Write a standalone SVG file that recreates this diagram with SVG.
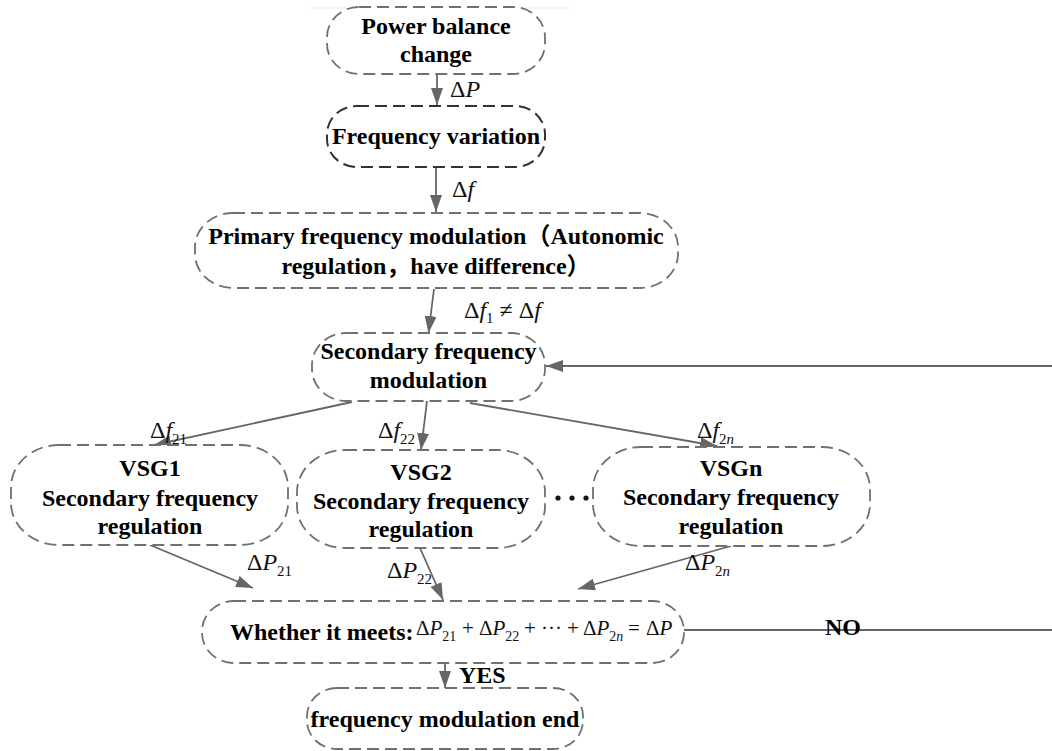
<svg xmlns="http://www.w3.org/2000/svg" width="1052" height="751" viewBox="0 0 1052 751">
<defs>
<marker id="ah" markerUnits="userSpaceOnUse" markerWidth="17" markerHeight="12" refX="17" refY="6" orient="auto">
<path d="M0,0 L17,6 L0,12 z" fill="#666"/>
</marker>
<style>
.n{fill:#fff;stroke:#707070;stroke-width:1.8;stroke-dasharray:12 6}
.nd{fill:#fff;stroke:#333;stroke-width:2;stroke-dasharray:12 6}
.t{font-weight:bold;font-size:24px;fill:#000;text-anchor:middle}
.tl{font-weight:bold;font-size:24px;fill:#000}
.m{font-size:24px;fill:#111}
.mf{font-size:21px;fill:#111}
.i{font-style:italic}
.s{font-size:15px}
.sf{font-size:14px}
.c{stroke:#666;stroke-width:1.8;fill:none}
</style>
</defs>
<rect width="1052" height="751" fill="#fff"/>
<line x1="310" y1="8" x2="570" y2="8" stroke="#ececec" stroke-width="1"/>
<g font-family="Liberation Serif, Times New Roman, DejaVu Serif, serif">
<g id="connectors">
<line class="c" x1="437" y1="74" x2="437" y2="105" marker-end="url(#ah)"/>
<line class="c" x1="436" y1="167" x2="436" y2="212" marker-end="url(#ah)"/>
<line class="c" x1="434" y1="289" x2="428.5" y2="333" marker-end="url(#ah)"/>
<line class="c" x1="1052" y1="366" x2="546" y2="366" marker-end="url(#ah)"/>
<line class="c" x1="352" y1="402" x2="154" y2="445" marker-end="url(#ah)"/>
<line class="c" x1="427" y1="401" x2="421" y2="450" marker-end="url(#ah)"/>
<line class="c" x1="470" y1="403" x2="717" y2="446" marker-end="url(#ah)"/>
<line class="c" x1="150" y1="545" x2="253" y2="588" marker-end="url(#ah)"/>
<line class="c" x1="420" y1="548" x2="443" y2="600" marker-end="url(#ah)"/>
<line class="c" x1="731" y1="546" x2="578" y2="589" marker-end="url(#ah)"/>
<line class="c" x1="684" y1="630" x2="1052" y2="630"/>
<line class="c" x1="445" y1="663" x2="445" y2="688" marker-end="url(#ah)"/>
<text class="m" x="450" y="97">Δ<tspan class="i">P</tspan></text>
<text class="m" x="452" y="197">Δ<tspan class="i">f</tspan></text>
<text class="m" x="464" y="318">Δ<tspan class="i">f</tspan><tspan class="s" dy="5">1</tspan><tspan dy="-5"> ≠ Δ</tspan><tspan class="i">f</tspan></text>
<text class="m" x="150" y="438">Δ<tspan class="i">f</tspan><tspan class="s" dy="6">21</tspan></text>
<text class="m" x="378" y="438">Δ<tspan class="i">f</tspan><tspan class="s" dy="6">22</tspan></text>
<text class="m" x="697" y="438">Δ<tspan class="i">f</tspan><tspan class="s" dy="6">2<tspan class="i">n</tspan></tspan></text>
<text class="m" x="247" y="570">Δ<tspan class="i">P</tspan><tspan class="s" dy="6">21</tspan></text>
<text class="m" x="387" y="578">Δ<tspan class="i">P</tspan><tspan class="s" dy="6">22</tspan></text>
<text class="m" x="685" y="570">Δ<tspan class="i">P</tspan><tspan class="s" dy="6">2<tspan class="i">n</tspan></tspan></text>
<text class="tl" x="825" y="635">NO</text>
<text class="tl" x="459" y="683">YES</text>
</g>

<g id="n1">
<rect class="n" x="327" y="7" width="218" height="67" rx="32" ry="30"/>
<text class="t" x="436" y="34">Power balance</text>
<text class="t" x="436" y="62">change</text>
</g>
<g id="n2">
<rect class="nd" x="327" y="106" width="218" height="61" rx="30" ry="28"/>
<text class="t" x="436" y="144">Frequency variation</text>
</g>
<g id="n3">
<rect class="n" x="195" y="213" width="483" height="75" rx="38" ry="34"/>
<text class="t" x="436" y="244">Primary frequency modulation<tspan font-family="Noto Sans CJK SC, sans-serif">（</tspan>Autonomic</text>
<text class="t" x="436" y="274">regulation<tspan font-family="Noto Sans CJK SC, sans-serif">，</tspan>have difference<tspan font-family="Noto Sans CJK SC, sans-serif">）</tspan></text>
</g>
<g id="n4">
<rect class="n" x="312" y="333" width="233" height="68" rx="34" ry="32"/>
<text class="t" x="428.5" y="359">Secondary frequency</text>
<text class="t" x="428.5" y="388">modulation</text>
</g>
<g id="vsg1">
<rect class="n" x="11" y="445" width="277" height="100" rx="48" ry="42"/>
<text class="t" x="150" y="476">VSG1</text>
<text class="t" x="150" y="506">Secondary frequency</text>
<text class="t" x="150" y="534">regulation</text>
</g>
<g id="vsg2">
<rect class="n" x="297" y="450" width="248" height="98" rx="48" ry="42"/>
<text class="t" x="421" y="480">VSG2</text>
<text class="t" x="421" y="509">Secondary frequency</text>
<text class="t" x="421" y="537">regulation</text>
</g>
<g id="dots" fill="#111">
<circle cx="558" cy="498" r="2.6"/>
<circle cx="572" cy="498" r="2.6"/>
<circle cx="586" cy="498" r="2.6"/>
</g>
<g id="vsgn">
<rect class="n" x="593" y="447" width="277" height="99" rx="48" ry="42"/>
<text class="t" x="731" y="476">VSGn</text>
<text class="t" x="731" y="505">Secondary frequency</text>
<text class="t" x="731" y="534">regulation</text>
</g>
<g id="check">
<rect class="n" x="202" y="601" width="482" height="62" rx="32" ry="30"/>
<text class="tl" x="230" y="640">Whether it meets:</text>
<text class="mf" y="635"><tspan x="416">Δ</tspan><tspan class="i">P</tspan><tspan class="sf" dy="6">21</tspan><tspan x="462" dy="-6">+</tspan><tspan x="479">Δ</tspan><tspan class="i">P</tspan><tspan class="sf" dy="6">22</tspan><tspan x="524" dy="-6">+</tspan><tspan x="541">·</tspan><tspan x="548">·</tspan><tspan x="555">·</tspan><tspan x="567">+</tspan><tspan x="583">Δ</tspan><tspan class="i">P</tspan><tspan class="sf" dy="6">2<tspan class="i">n</tspan></tspan><tspan x="628" dy="-6">=</tspan><tspan x="646">Δ</tspan><tspan class="i">P</tspan></text>
</g>
<g id="end">
<rect class="n" x="307" y="688" width="276" height="61" rx="30" ry="28"/>
<text class="t" x="445" y="727">frequency modulation end</text>
</g>
</g>
</svg>
